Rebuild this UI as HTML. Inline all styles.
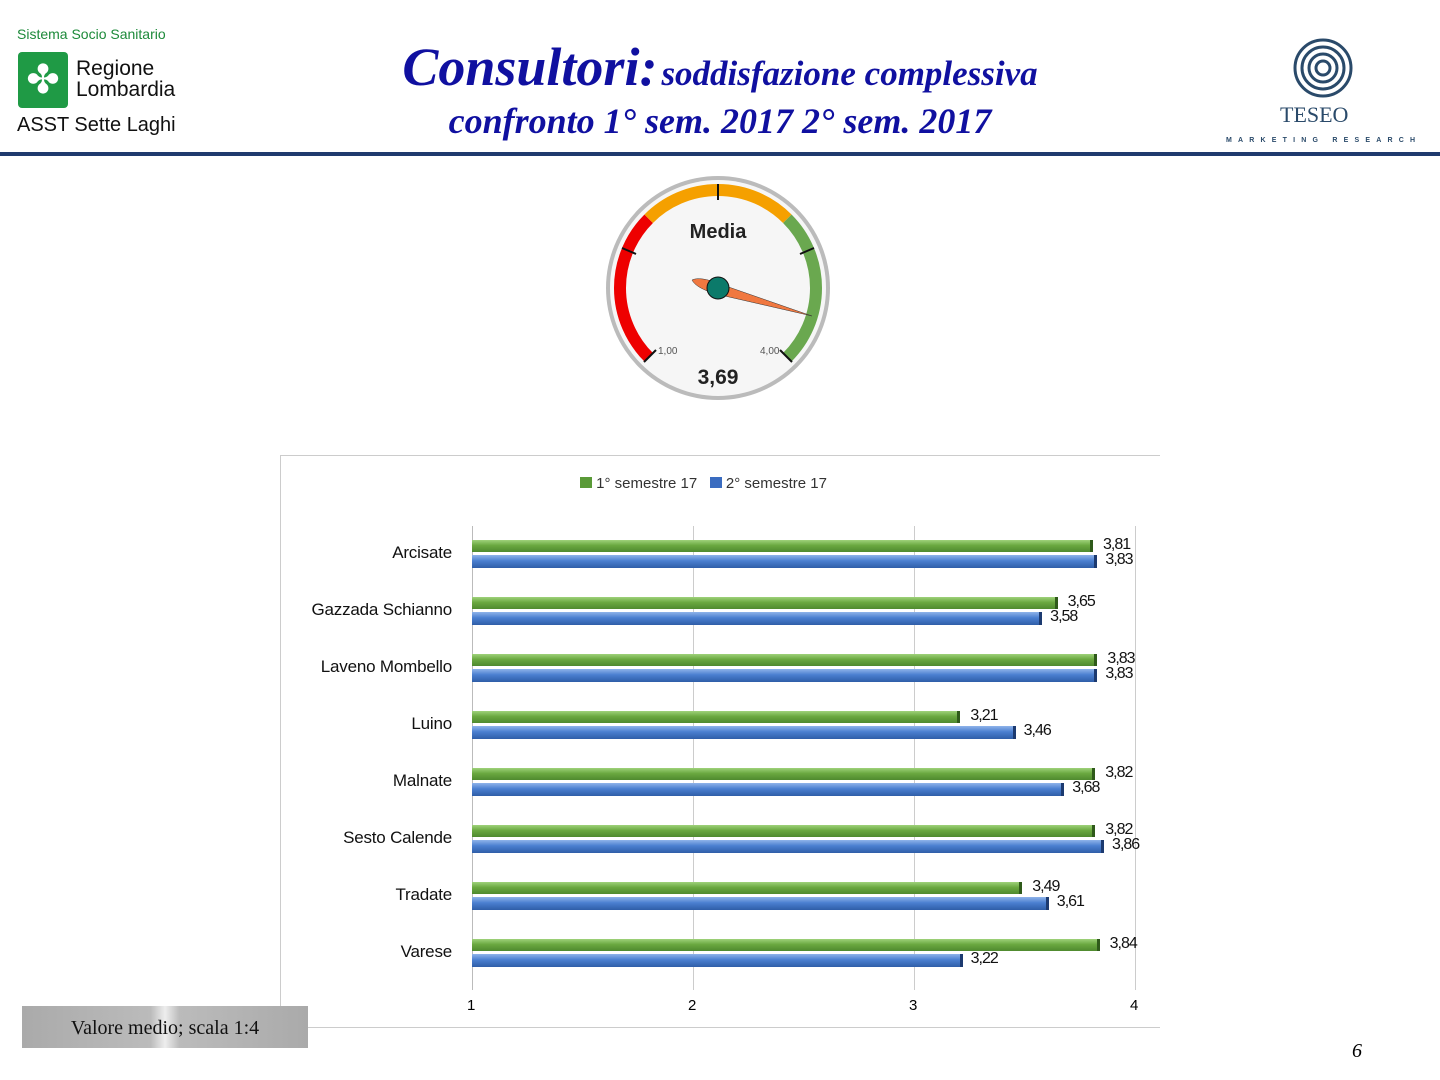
<!DOCTYPE html>
<html><head><meta charset="utf-8"><style>
body{margin:0;width:1440px;height:1080px;background:#fff;position:relative;overflow:hidden;font-family:"Liberation Sans",sans-serif}
.a{position:absolute}
.g{background:linear-gradient(#9fd27a,#6aa840 45%,#4f8a2e);border-right:3px solid #2f5a1a}
.b{background:linear-gradient(#8fb4ea,#4a7fd0 45%,#2f5ea8);border-right:3px solid #1c3a70}
.lbl{font-size:16px;letter-spacing:-1px;color:#111}
.cat{font-size:17px;color:#111;text-align:right;width:200px;letter-spacing:-0.2px}
</style></head><body>
<div class="a" style="left:17px;top:26px;font-size:14px;color:#1d8a3a">Sistema Socio Sanitario</div>
<div class="a" style="left:18px;top:52px;width:50px;height:56px;background:#1f9a45;border-radius:4px;color:#fff;font-size:40px;text-align:center;line-height:56px">✤</div>
<div class="a" style="left:76px;top:58px;font-size:21px;line-height:21px;color:#111">Regione<br>Lombardia</div>
<div class="a" style="left:17px;top:114px;font-size:20px;color:#111">ASST Sette Laghi</div>
<div class="a" style="left:0;top:36px;width:1440px;text-align:center;font-family:'Liberation Serif',serif;font-style:italic;font-weight:bold;color:#1010a0"><span style="font-size:54px">Consultori:</span> <span style="font-size:35px">soddisfazione complessiva</span></div>
<div class="a" style="left:0;top:100px;width:1440px;text-align:center;font-family:'Liberation Serif',serif;font-style:italic;font-weight:bold;color:#1010a0;font-size:36px">confronto 1° sem. 2017 2° sem. 2017</div>
<svg class="a" style="left:1290px;top:36px" width="70" height="66"><g fill="none" stroke="#2a4a6a" stroke-width="3"><circle cx="33" cy="32" r="28"/><circle cx="33" cy="32" r="21"/><circle cx="33" cy="32" r="14"/><circle cx="33" cy="32" r="7"/></g></svg>
<div class="a" style="left:1280px;top:102px;font-family:'Liberation Serif',serif;font-size:22px;color:#2a4a6a">TESEO</div>
<div class="a" style="left:1226px;top:137px;font-size:7px;letter-spacing:6.2px;color:#2a4a6a;font-weight:bold">MARKETING RESEARCH</div>
<div class="a" style="left:0;top:152px;width:1440px;height:4px;background:#1f3a6e"></div>

<svg class="a" style="left:600px;top:170px" width="240" height="240">
<circle cx="118" cy="118" r="112" fill="#bbb"/><circle cx="118" cy="118" r="108" fill="#f6f6f6"/>
<g fill="none" stroke-width="12">
<path d="M48.7 187.3 A98 98 0 0 1 48.7 48.7" stroke="#e00"/>
<path d="M48.7 48.7 A98 98 0 0 1 187.3 48.7" stroke="#f5a000"/>
<path d="M187.3 48.7 A98 98 0 0 1 187.3 187.3" stroke="#6aa84f"/>
</g>
<g stroke="#111" stroke-width="2"><line x1="118" y1="14" x2="118" y2="30"/><line x1="22" y1="78" x2="36" y2="84"/><line x1="214" y1="78" x2="200" y2="84"/><line x1="44" y1="192" x2="56" y2="180"/><line x1="192" y1="192" x2="180" y2="180"/></g>
<text x="118" y="68" text-anchor="middle" font-size="20" font-weight="bold" fill="#222">Media</text>
<text x="58" y="184" font-size="10" fill="#555">1,00</text><text x="160" y="184" font-size="10" fill="#555">4,00</text>
<text x="118" y="214" text-anchor="middle" font-size="21" font-weight="bold" fill="#222">3,69</text>
<path d="M92 110 Q100 106 120 114 L212 146 L116 124 Q96 118 92 110Z" fill="#f07840" stroke="#333" stroke-width="0.5"/>
<circle cx="118" cy="118" r="11" fill="#0b7a6a" stroke="#111"/>
</svg>

<div class="a" style="left:280px;top:455px;width:1px;height:573px;background:#ccc"></div>
<div class="a" style="left:280px;top:455px;width:880px;height:1px;background:#ccc"></div>
<div class="a" style="left:280px;top:1027px;width:880px;height:1px;background:#ccc"></div>
<div class="a" style="left:580px;top:475px;font-size:15px;color:#333"><span style="display:inline-block;width:12px;height:11px;background:#5a9a38"></span> 1° semestre 17 &nbsp;&nbsp;<span style="display:inline-block;width:12px;height:11px;background:#3a6cc0"></span> 2° semestre 17</div>
<div class="a" style="left:472px;top:526px;width:1px;height:464px;background:#bbb"></div>
<div class="a" style="left:693px;top:526px;width:1px;height:464px;background:#ccc"></div>
<div class="a" style="left:914px;top:526px;width:1px;height:464px;background:#ccc"></div>
<div class="a" style="left:1135px;top:526px;width:1px;height:464px;background:#ccc"></div>
<div class="a" style="left:467px;top:997px;font-size:15px">1</div>
<div class="a" style="left:688px;top:997px;font-size:15px">2</div>
<div class="a" style="left:909px;top:997px;font-size:15px">3</div>
<div class="a" style="left:1130px;top:997px;font-size:15px">4</div>
<div id="bars"></div>
<script>
var d=[["Arcisate",3.81,3.83],["Gazzada Schianno",3.65,3.58],["Laveno Mombello",3.83,3.83],["Luino",3.21,3.46],["Malnate",3.82,3.68],["Sesto Calende",3.82,3.86],["Tradate",3.49,3.61],["Varese",3.84,3.22]];
var h="";d.forEach(function(r,i){var c=554+57*i;var w1=(r[1]-1)*221,w2=(r[2]-1)*221;
h+='<div class="a cat" style="left:252px;top:'+(c-11)+'px">'+r[0]+'</div>';
h+='<div class="a g" style="left:472px;top:'+(c-14)+'px;width:'+(w1-3)+'px;height:12px"></div>';
h+='<div class="a b" style="left:472px;top:'+(c+1)+'px;width:'+(w2-3)+'px;height:13px"></div>';
h+='<div class="a lbl" style="left:'+(472+w1+10)+'px;top:'+(c-18)+'px">'+r[1].toFixed(2).replace(".",",")+'</div>';
h+='<div class="a lbl" style="left:'+(472+w2+8)+'px;top:'+(c-3)+'px">'+r[2].toFixed(2).replace(".",",")+'</div>';});
document.getElementById("bars").innerHTML=h;
</script>
<div class="a" style="left:22px;top:1006px;width:286px;height:42px;background:linear-gradient(90deg,#aaa,#bbb 45%,#eee 50%,#bbb 55%,#aaa);font-family:'Liberation Serif',serif;font-size:20px;text-align:center;line-height:44px;color:#111">Valore medio; scala 1:4</div>
<div class="a" style="left:1352px;top:1040px;font-family:'Liberation Serif',serif;font-style:italic;font-size:20px">6</div>
</body></html>
